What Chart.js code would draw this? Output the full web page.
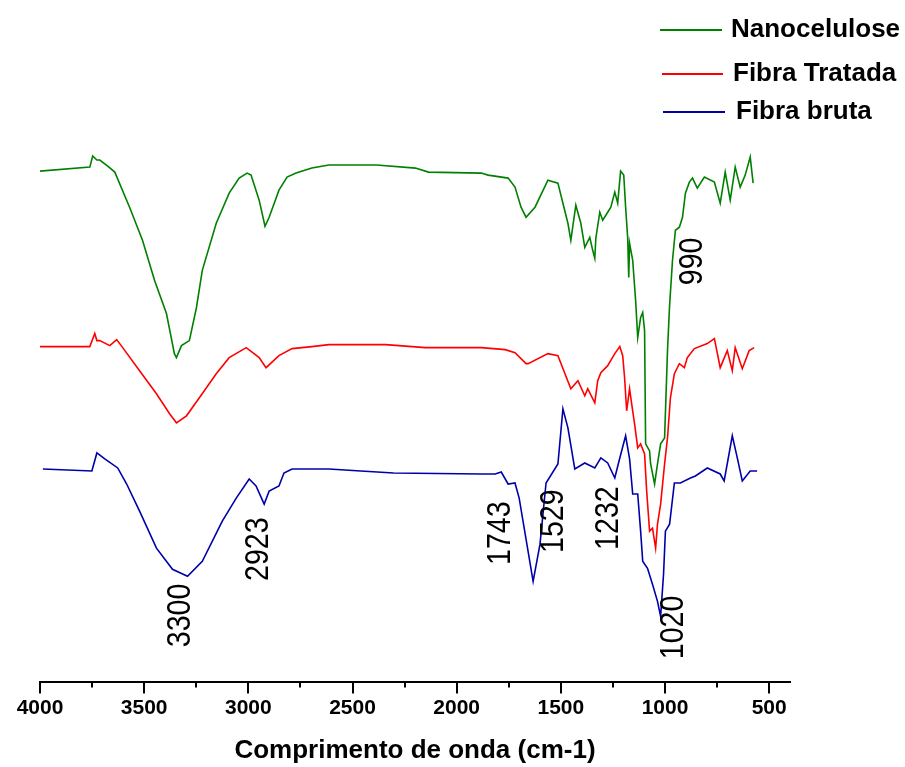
<!DOCTYPE html>
<html>
<head>
<meta charset="utf-8">
<script src="https://cdn.jsdelivr.net/npm/chart.js@4.4.0/dist/chart.umd.min.js"></script>
<style>
  body { margin: 0; background: #fff; }
  #wrap { width: 905px; height: 767px; }
</style>
</head>
<body>
<div id="wrap"><canvas id="ftirChart"></canvas></div>
<script>
// FTIR spectra - wavenumber (cm-1) vs. transmittance (arbitrary, offset)

const nanoX = [4000, 3761, 3747, 3727, 3713, 3675, 3641, 3570, 3508, 3450, 3393, 3355, 3345, 3321, 3283, 3249, 3221, 3154, 3092, 3044, 3006, 2987, 2948, 2920, 2900, 2853, 2814, 2771, 2695, 2613, 2384, 2198, 2135, 1882, 1849, 1753, 1720, 1691, 1667, 1624, 1562, 1514, 1490, 1466, 1452, 1428, 1404, 1385, 1361, 1347, 1337, 1332, 1313, 1299, 1284, 1260, 1241, 1227, 1213, 1198, 1189, 1179, 1174, 1170, 1155, 1141, 1131, 1117, 1107, 1098, 1093, 1074, 1069, 1050, 1036, 1021, 1002, 988, 978, 964, 950, 931, 916, 902, 883, 868, 845, 811, 763, 735, 711, 687, 663, 639, 615, 591, 577];
const nanoY = [101.8, 102.6, 104.8, 104.0, 104.0, 102.8, 101.6, 94.6, 88.0, 80.0, 73.4, 65.4, 64.6, 67.0, 68.0, 74.6, 82.0, 91.4, 97.4, 100.4, 101.4, 101.0, 96.0, 90.8, 92.6, 98.0, 100.6, 101.4, 102.4, 103.0, 103.0, 102.4, 101.6, 101.4, 101.0, 100.4, 98.6, 94.6, 92.6, 94.6, 100.0, 99.4, 95.4, 91.4, 88.0, 95.0, 91.4, 86.6, 88.6, 86.0, 84.4, 88.4, 93.6, 92.0, 93.0, 94.6, 97.6, 95.4, 101.8, 101.0, 94.6, 88.4, 80.6, 87.4, 84.0, 76.0, 68.6, 72.6, 73.6, 70.0, 47.4, 46.0, 43.4, 39.4, 43.4, 47.4, 48.6, 66.0, 75.0, 84.0, 90.0, 90.6, 92.6, 97.4, 99.6, 100.4, 98.4, 100.6, 99.6, 95.4, 101.6, 96.0, 102.6, 98.6, 101.0, 104.6, 99.4];

const tratadaX = [4000, 3761, 3737, 3727, 3713, 3665, 3632, 3603, 3522, 3441, 3378, 3345, 3297, 3235, 3154, 3092, 3010, 2948, 2915, 2853, 2790, 2695, 2613, 2341, 2150, 1882, 1767, 1720, 1667, 1657, 1562, 1514, 1452, 1418, 1385, 1371, 1337, 1323, 1308, 1275, 1241, 1217, 1203, 1194, 1184, 1170, 1160, 1146, 1131, 1117, 1098, 1088, 1074, 1060, 1045, 1036, 1021, 1002, 988, 974, 955, 931, 907, 893, 859, 797, 763, 735, 701, 677, 663, 629, 596, 572];
const tratadaY = [66.8, 66.8, 69.4, 68.0, 68.0, 67.0, 68.2, 66.6, 62.0, 57.4, 53.4, 51.6, 53.0, 56.6, 61.4, 64.6, 66.6, 64.6, 62.6, 65.0, 66.4, 66.8, 67.2, 67.2, 66.6, 66.6, 66.2, 65.6, 63.4, 63.4, 65.4, 65.0, 58.4, 60.0, 57.0, 58.4, 55.6, 60.0, 61.6, 63.0, 65.4, 66.8, 65.0, 60.6, 54.0, 58.4, 55.4, 51.4, 46.6, 47.4, 45.4, 38.0, 30.0, 30.6, 26.6, 31.4, 35.4, 43.4, 48.6, 56.6, 61.4, 63.4, 62.6, 64.6, 66.4, 67.4, 68.4, 62.6, 66.0, 62.0, 66.6, 62.4, 66.0, 66.6];

const brutaX = [3986, 3751, 3727, 3689, 3627, 3584, 3522, 3441, 3364, 3292, 3221, 3125, 3058, 2996, 2963, 2924, 2900, 2853, 2829, 2790, 2613, 2460, 2303, 1882, 1815, 1786, 1753, 1720, 1700, 1633, 1600, 1571, 1514, 1490, 1466, 1433, 1385, 1337, 1308, 1275, 1241, 1217, 1189, 1170, 1155, 1131, 1117, 1107, 1084, 1060, 1036, 1021, 1007, 998, 978, 955, 926, 878, 854, 797, 735, 716, 677, 653, 629, 591, 558];
const brutaY = [42.4, 42.0, 45.6, 44.4, 42.6, 39.4, 34.0, 26.6, 22.4, 21.0, 24.0, 32.0, 36.6, 40.4, 39.0, 35.4, 38.0, 39.0, 41.6, 42.4, 42.4, 42.0, 41.6, 41.4, 41.4, 41.8, 39.4, 39.6, 36.6, 20.0, 27.4, 39.6, 43.4, 54.4, 50.6, 42.4, 43.6, 42.6, 44.6, 43.6, 40.6, 44.6, 49.0, 44.4, 37.4, 37.4, 30.0, 24.0, 22.6, 19.4, 16.0, 13.0, 21.4, 30.0, 31.4, 39.6, 39.6, 40.6, 41.0, 42.6, 41.4, 40.0, 49.0, 44.6, 40.0, 42.0, 42.0];

// peak annotations (text, wavenumber, height)
const peakLabels = ['3300', '2923', '1743', '1529', '1232', '1020', '990'];
const peakX = [3326, 2953, 1791, 1533, 1270, 959, 868];
const peakY = [13.2, 26.4, 29.6, 32.0, 32.6, 10.8, 83.8];

const seriesNames = ['Nanocelulose', 'Fibra Tratada', 'Fibra bruta'];
const seriesColors = ['#008000', '#ff0000', '#0000aa'];
const xTickValues = [4000, 3500, 3000, 2500, 2000, 1500, 1000, 500];
const minorTicks = [3750, 3250, 2750, 2250, 1750, 1250, 750];

function toPoints(xs, ys) {
    return xs.map((x, i) => ({ x: x, y: ys[i] }));
}

// minor ticks, peak labels and legend
const extras = {
    id: 'extras',
    afterDraw(chart) {
        const ctx = chart.ctx;
        const xs = chart.scales.x, ys = chart.scales.y;
        const bottom = chart.chartArea.bottom;
        ctx.save();

        ctx.strokeStyle = '#000';
        ctx.lineWidth = 2;
        minorTicks.forEach(v => {
            const px = Math.round(xs.getPixelForValue(v));
            ctx.beginPath();
            ctx.moveTo(px, bottom);
            ctx.lineTo(px, bottom + 6);
            ctx.stroke();
        });

        ctx.fillStyle = '#000';
        ctx.font = '34px "Liberation Sans", Arial, sans-serif';
        ctx.textAlign = 'center';
        ctx.textBaseline = 'middle';
        peakLabels.forEach((t, i) => {
            ctx.save();
            ctx.translate(xs.getPixelForValue(peakX[i]), ys.getPixelForValue(peakY[i]));
            ctx.rotate(-Math.PI / 2);
            ctx.scale(0.84, 1);
            ctx.fillText(t, 0, 0);
            ctx.restore();
        });

        // legend, top right
        const rows = [
            { y: 30, x0: 660, x1: 722, tx: 731 },
            { y: 74, x0: 662, x1: 723, tx: 733 },
            { y: 112, x0: 663, x1: 725, tx: 736 }
        ];
        ctx.font = 'bold 26px "Liberation Sans", Arial, sans-serif';
        ctx.textAlign = 'left';
        rows.forEach((r, i) => {
            ctx.strokeStyle = seriesColors[i];
            ctx.lineWidth = 2;
            ctx.beginPath();
            ctx.moveTo(r.x0, r.y);
            ctx.lineTo(r.x1, r.y);
            ctx.stroke();
            ctx.fillStyle = '#000';
            ctx.fillText(seriesNames[i], r.tx, r.y);
        });

        ctx.restore();
    }
};

const ftirChart = new Chart(document.getElementById('ftirChart').getContext('2d'), {
    type: 'line',
    data: {
        datasets: [
            { label: seriesNames[0], data: toPoints(nanoX, nanoY), borderColor: seriesColors[0] },
            { label: seriesNames[1], data: toPoints(tratadaX, tratadaY), borderColor: seriesColors[1] },
            { label: seriesNames[2], data: toPoints(brutaX, brutaY), borderColor: seriesColors[2] }
        ]
    },
    options: {
        responsive: true,
        maintainAspectRatio: false,
        animation: false,
        elements: {
            line: { borderWidth: 1.6, tension: 0 },
            point: { radius: 0 }
        },
        layout: { padding: { left: 40, right: 115, top: 140, bottom: 1 } },
        plugins: {
            legend: { display: false },
            tooltip: { enabled: false }
        },
        scales: {
            x: {
                type: 'linear',
                min: 400,
                max: 4000,
                reverse: true,
                afterBuildTicks: scale => {
                    scale.ticks = xTickValues.map(v => ({ value: v }));
                },
                border: { display: true, color: '#000', width: 2 },
                grid: {
                    drawOnChartArea: false,
                    drawTicks: true,
                    tickLength: 12,
                    lineWidth: 2,
                    color: '#000'
                },
                ticks: {
                    autoSkip: false,
                    maxRotation: 0,
                    padding: 2,
                    color: '#000',
                    font: { family: '"Liberation Sans", Arial, sans-serif', size: 21, weight: 'bold' },
                    callback: v => v
                },
                title: {
                    display: true,
                    text: 'Comprimento de onda (cm-1)',
                    color: '#000',
                    font: { family: '"Liberation Sans", Arial, sans-serif', size: 26, weight: 'bold' },
                    padding: { top: 12, bottom: 0 }
                }
            },
            y: {
                display: false,
                min: 0,
                max: 108
            }
        }
    },
    plugins: [extras]
});
</script>
</body>
</html>
